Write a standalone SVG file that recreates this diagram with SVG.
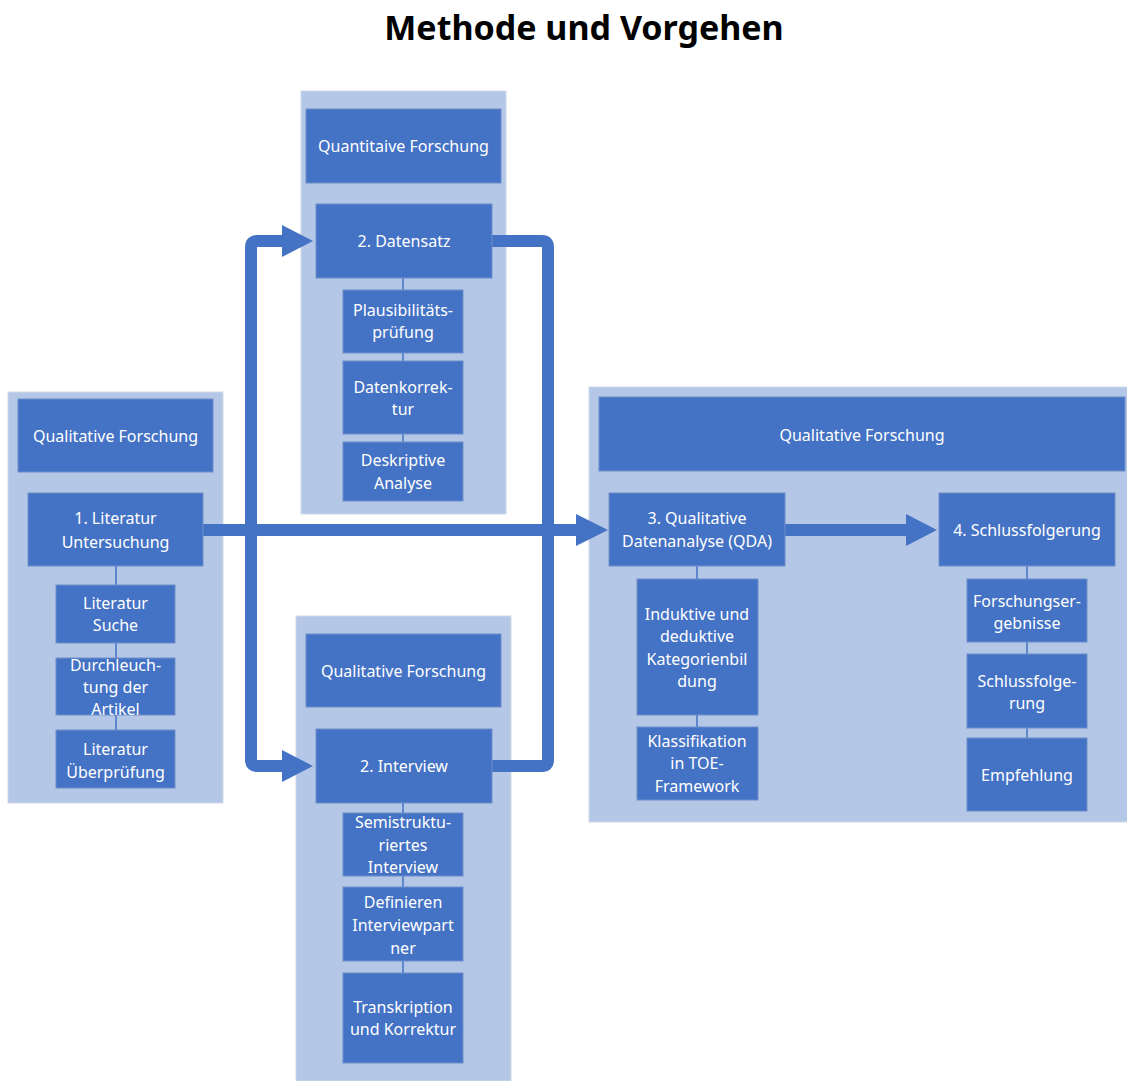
<svg xmlns="http://www.w3.org/2000/svg" width="1127" height="1081" viewBox="0 0 1127 1081">
<style>
.panel{fill:#B4C7E7;stroke:#d0d8e6;stroke-width:1}
.box{fill:#4472C4;stroke:#6f8fcc;stroke-width:1}
.t{font-family:"Noto Sans","Open Sans",sans-serif;font-size:16px;fill:#ffffff;text-anchor:middle;dominant-baseline:central}
.title{font-family:"Noto Sans","Open Sans",sans-serif;font-size:34px;font-weight:bold;fill:#000;text-anchor:middle}
.thin{stroke:#4472C4;stroke-width:1.5;fill:none}
.thick{stroke:#4472C4;stroke-width:12;fill:none;stroke-linejoin:round}
.head{fill:#4472C4}
</style>
<rect width="1127" height="1081" fill="#ffffff"/>
<text class="title" x="584" y="40">Methode und Vorgehen</text>

<g id="panel-left">
<rect class="panel" x="8" y="392" width="215" height="411"/>
</g>
<g id="panel-top">
<rect class="panel" x="301" y="91" width="205" height="423"/>
</g>
<g id="panel-bottom">
<rect class="panel" x="296" y="616" width="215" height="465"/>
</g>
<g id="panel-right">
<rect class="panel" x="589" y="387" width="540" height="435"/>
</g>

<g id="connectors">
<path class="thin" d="M116 566V585M116 643V658M116 715V730"/>
<path class="thin" d="M403 278V290M403 353V361M403 434V442"/>
<path class="thin" d="M403 803V813M403 876V887M403 961V973"/>
<path class="thin" d="M697 566V579M697 715V727"/>
<path class="thin" d="M1027 566V579M1027 642V654M1027 728V738"/>
<path class="thick" d="M284 241H257Q251 241 251 247V760Q251 766 257 766H284"/>
<polygon class="head" points="282,225 313,241 282,257"/>
<polygon class="head" points="282,750 313,766 282,782"/>
<path class="thick" d="M490 241H542Q548 241 548 247V760Q548 766 542 766H490"/>
<path class="thick" d="M203 530H578"/>
<polygon class="head" points="576,514 608,530 576,546"/>
<path class="thick" d="M785 530H908"/>
<polygon class="head" points="906,514 937,530 906,546"/>
</g>

<g id="n-left-header"><rect class="box" x="18" y="399" width="195" height="73"/><text class="t" x="115.5" y="436">Qualitative Forschung</text></g>
<g id="n-literatur"><rect class="box" x="28" y="493" width="175" height="73"/><text class="t" x="115.5" y="518">1. Literatur</text><text class="t" x="115.5" y="542">Untersuchung</text></g>
<g id="n-suche"><rect class="box" x="56" y="585" width="119" height="58"/><text class="t" x="115.5" y="603">Literatur</text><text class="t" x="115.5" y="625">Suche</text></g>
<g id="n-durchleuchtung"><rect class="box" x="56" y="658" width="119" height="57"/><text class="t" x="115.5" y="665">Durchleuch-</text><text class="t" x="115.5" y="687">tung der</text><text class="t" x="115.5" y="709">Artikel</text></g>
<g id="n-ueberpruefung"><rect class="box" x="56" y="730" width="119" height="58"/><text class="t" x="115.5" y="749">Literatur</text><text class="t" x="115.5" y="772">Überprüfung</text></g>

<g id="n-top-header"><rect class="box" x="306" y="109" width="195" height="74"/><text class="t" x="403.5" y="146">Quantitaive Forschung</text></g>
<g id="n-datensatz"><rect class="box" x="316" y="204" width="176" height="74"/><text class="t" x="404" y="241">2. Datensatz</text></g>
<g id="n-plausi"><rect class="box" x="343" y="290" width="120" height="63"/><text class="t" x="403" y="310">Plausibilitäts-</text><text class="t" x="403" y="332">prüfung</text></g>
<g id="n-korrektur"><rect class="box" x="343" y="361" width="120" height="73"/><text class="t" x="403" y="387">Datenkorrek-</text><text class="t" x="403" y="409">tur</text></g>
<g id="n-deskriptiv"><rect class="box" x="343" y="442" width="120" height="59"/><text class="t" x="403" y="460">Deskriptive</text><text class="t" x="403" y="483">Analyse</text></g>

<g id="n-bottom-header"><rect class="box" x="306" y="634" width="195" height="73"/><text class="t" x="403.5" y="671">Qualitative Forschung</text></g>
<g id="n-interview"><rect class="box" x="316" y="729" width="176" height="74"/><text class="t" x="404" y="766">2. Interview</text></g>
<g id="n-semi"><rect class="box" x="343" y="813" width="120" height="63"/><text class="t" x="403" y="822">Semistruktu-</text><text class="t" x="403" y="845">riertes</text><text class="t" x="403" y="867">Interview</text></g>
<g id="n-definieren"><rect class="box" x="343" y="887" width="120" height="74"/><text class="t" x="403" y="902">Definieren</text><text class="t" x="403" y="925">Interviewpart</text><text class="t" x="403" y="948">ner</text></g>
<g id="n-transkription"><rect class="box" x="343" y="973" width="120" height="90"/><text class="t" x="403" y="1007">Transkription</text><text class="t" x="403" y="1029">und Korrektur</text></g>

<g id="n-right-header"><rect class="box" x="599" y="397" width="526" height="74"/><text class="t" x="862" y="435">Qualitative Forschung</text></g>
<g id="n-qda"><rect class="box" x="609" y="493" width="176" height="73"/><text class="t" x="697" y="518">3. Qualitative</text><text class="t" x="697" y="541">Datenanalyse (QDA)</text></g>
<g id="n-schluss"><rect class="box" x="939" y="493" width="176" height="73"/><text class="t" x="1027" y="530">4. Schlussfolgerung</text></g>
<g id="n-induktiv"><rect class="box" x="637" y="579" width="121" height="136"/><text class="t" x="697" y="614">Induktive und</text><text class="t" x="697" y="636">deduktive</text><text class="t" x="697" y="659">Kategorienbil</text><text class="t" x="697" y="681">dung</text></g>
<g id="n-klassifikation"><rect class="box" x="637" y="727" width="121" height="73"/><text class="t" x="697" y="741">Klassifikation</text><text class="t" x="697" y="763">in TOE-</text><text class="t" x="697" y="786">Framework</text></g>
<g id="n-ergebnisse"><rect class="box" x="967" y="579" width="120" height="63"/><text class="t" x="1027" y="601">Forschungser-</text><text class="t" x="1027" y="623">gebnisse</text></g>
<g id="n-folgerung"><rect class="box" x="967" y="654" width="120" height="74"/><text class="t" x="1027" y="681">Schlussfolge-</text><text class="t" x="1027" y="703">rung</text></g>
<g id="n-empfehlung"><rect class="box" x="967" y="738" width="120" height="73"/><text class="t" x="1027" y="775">Empfehlung</text></g>
</svg>
